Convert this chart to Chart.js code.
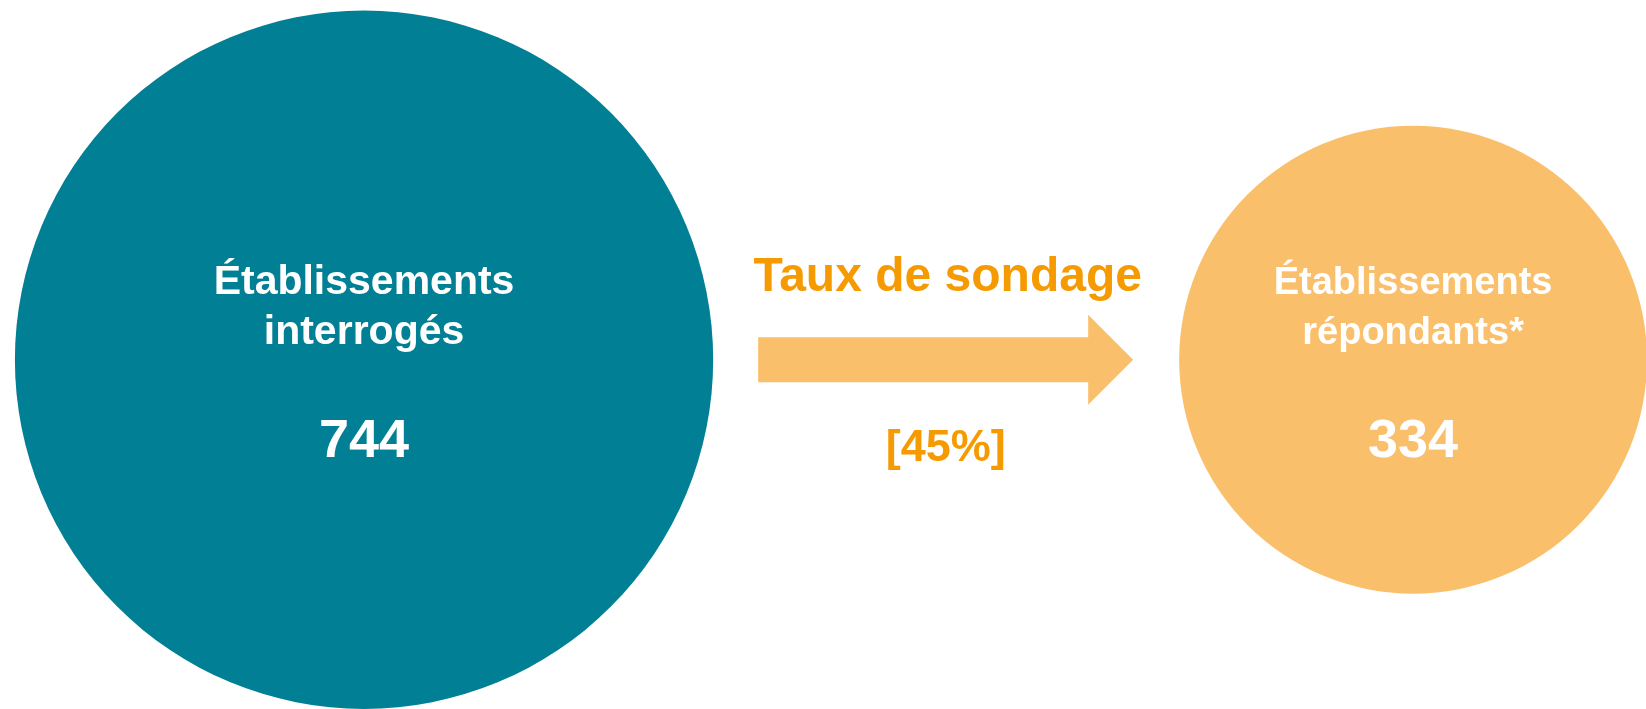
<!DOCTYPE html>
<html>
<head>
<meta charset="utf-8">
<script src="https://cdn.jsdelivr.net/npm/chart.js@4/dist/chart.umd.min.js"></script>
<style>
  html, body { margin: 0; padding: 0; background: #ffffff; }
  #wrap { width: 1646px; height: 709px; }
</style>
</head>
<body>
<div id="wrap"><canvas id="bubbles" width="1646" height="709"></canvas></div>
<script>
// data
const categories = [["Établissements", "interrogés"], ["Établissements", "répondants*"]];
const values = [744, 334];
const positions = [0, 1];
const rateTitle = "Taux de sondage";

const circleColors = ["#017F94", "#FABF6B"];
const orange = "#F59A00";
const FONT = "'Liberation Sans', Arial, sans-serif";
const K = 12.8; // px per sqrt(unit)

const rate = Math.round(values[1] / values[0] * 100);

const labelsPlugin = {
    id: "circleLabels",
    afterDatasetsDraw(chart) {
        const c = chart.ctx;
        const meta = chart.getDatasetMeta(0);
        const pts = meta.data;
        c.save();
        c.textAlign = "center";
        c.textBaseline = "alphabetic";
        c.fillStyle = "#ffffff";

        pts.forEach((p, i) => {
            const size = i === 0 ? 41 : 38;
            c.font = "bold " + size + "px " + FONT;
            c.fillText(categories[i][0], p.x, p.y - 66);
            c.fillText(categories[i][1], p.x, p.y - 16);
            c.font = "bold 54px " + FONT;
            c.fillText(String(values[i]), p.x, p.y + 97);
        });

        // arrow between the two circles
        const a = pts[0], b = pts[1];
        const x0 = a.x + a.options.radius + 45;
        const x1 = b.x - b.options.radius - 46;
        const cy = (a.y + b.y) / 2;
        const headLen = 45, shaft = 22.5, head = 45;
        c.fillStyle = circleColors[1];
        c.beginPath();
        c.moveTo(x0, cy - shaft);
        c.lineTo(x1 - headLen, cy - shaft);
        c.lineTo(x1 - headLen, cy - head);
        c.lineTo(x1, cy);
        c.lineTo(x1 - headLen, cy + head);
        c.lineTo(x1 - headLen, cy + shaft);
        c.lineTo(x0, cy + shaft);
        c.closePath();
        c.fill();

        const mx = (x0 + x1) / 2;
        c.fillStyle = orange;
        c.font = "bold 48px " + FONT;
        c.fillText(rateTitle, mx + 2, cy - 69);
        c.font = "bold 45px " + FONT;
        c.fillText("[" + rate + "%]", mx, cy + 101);
        c.restore();
    }
};

new Chart(document.getElementById("bubbles"), {
    type: "bubble",
    data: {
        datasets: [{
            data: positions.map((x) => ({ x: x, y: 0 })),
            backgroundColor: circleColors,
            borderWidth: 0,
            radius: (ctx) => Math.sqrt(values[ctx.dataIndex]) * K,
            hoverRadius: 0,
            clip: false,
        }],
    },
    options: {
        responsive: false,
        animation: false,
        events: [],
        layout: { padding: 0, autoPadding: false },
        plugins: { legend: { display: false }, tooltip: { enabled: false } },
        scales: {
            x: { type: "linear", min: -0.347, max: 1.222, display: false },
            y: { type: "linear", min: -1, max: 1.03, display: false },
        },
    },
    plugins: [labelsPlugin],
});
</script>
</body>
</html>
